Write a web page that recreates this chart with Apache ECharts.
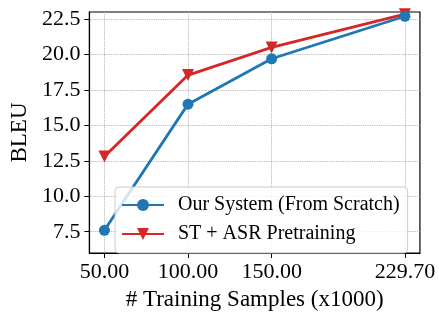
<!DOCTYPE html>
<html>
<head>
<meta charset="utf-8">
<script src="https://cdn.jsdelivr.net/npm/echarts@6/dist/echarts.min.js"></script>
<style>
  html, body { margin: 0; padding: 0; background: #fff; }
  #chart { width: 438px; height: 316px; }
</style>
</head>
<body>
<div id="chart"></div>
<script>
// training samples (x1000)
const samples = [50, 100, 150, 229.7];
const ourSystem = [7.6, 16.5, 19.7, 22.7];
const stAsr = [12.8, 18.55, 20.5, 22.85];
const yTicks = [7.5, 10, 12.5, 15, 17.5, 20, 22.5];

const font = 'Liberation Serif';
const chart = echarts.init(document.getElementById('chart'));

const toPairs = ys => samples.map((x, i) => [x, ys[i]]);

const option = {
  animation: false,
  grid: {
    left: 86, right: 16, top: 12, bottom: 58,
    show: true, borderColor: '#000', borderWidth: 1.2
  },
  xAxis: {
    type: 'value',
    min: 41.015,
    max: 238.685,
    name: '# Training Samples (x1000)',
    nameLocation: 'middle',
    nameGap: 35,
    nameTextStyle: { fontFamily: font, fontSize: 23, color: '#000' },
    axisLine: { lineStyle: { color: '#000', width: 1.2 } },
    axisTick: { customValues: samples, length: 5, lineStyle: { color: '#000' } },
    axisLabel: {
      customValues: samples,
      formatter: v => v.toFixed(2),
      fontFamily: font, fontSize: 22, color: '#000', margin: 8
    },
    splitLine: { show: true, lineStyle: { color: '#aaaaaa', type: 'dotted', width: 0.9 } }
  },
  yAxis: {
    type: 'value',
    min: 6,
    max: 23,
    name: 'BLEU',
    nameLocation: 'middle',
    nameGap: 58,
    nameTextStyle: { fontFamily: font, fontSize: 23, color: '#000' },
    axisLine: { show: true, lineStyle: { color: '#000', width: 1.2 } },
    axisTick: { show: true, customValues: yTicks, length: 5, lineStyle: { color: '#000' } },
    axisLabel: {
      customValues: yTicks,
      formatter: v => v.toFixed(1),
      fontFamily: font, fontSize: 22, color: '#000', margin: 9
    },
    splitLine: { show: true, lineStyle: { color: '#aaaaaa', type: 'dotted', width: 0.9 } }
  },
  legend: {
    orient: 'vertical',
    left: 115,
    top: 187,
    padding: [8, 8, 9, 6],
    itemWidth: 42,
    itemHeight: 15,
    itemGap: 9,
    borderColor: '#cccccc',
    borderWidth: 1,
    borderRadius: 4,
    backgroundColor: 'rgba(255,255,255,0.8)',
    textStyle: { fontFamily: font, fontSize: 20, color: '#000', padding: [0, 0, 0, 9] },
    data: ['Our System (From Scratch)', 'ST + ASR Pretraining']
  },
  series: [
    {
      name: 'Our System (From Scratch)',
      type: 'line',
      data: toPairs(ourSystem),
      symbol: 'circle',
      symbolSize: 11,
      z: 3,
      lineStyle: { color: '#1f77b4', width: 2.8 },
      itemStyle: { color: '#1f77b4' }
    },
    {
      name: 'ST + ASR Pretraining',
      type: 'line',
      data: toPairs(stAsr),
      symbol: 'triangle',
      symbolRotate: 180,
      symbolSize: 12,
      z: 2,
      lineStyle: { color: '#d62728', width: 2.8 },
      itemStyle: { color: '#d62728' }
    }
  ]
};

chart.setOption(option);
</script>
</body>
</html>
